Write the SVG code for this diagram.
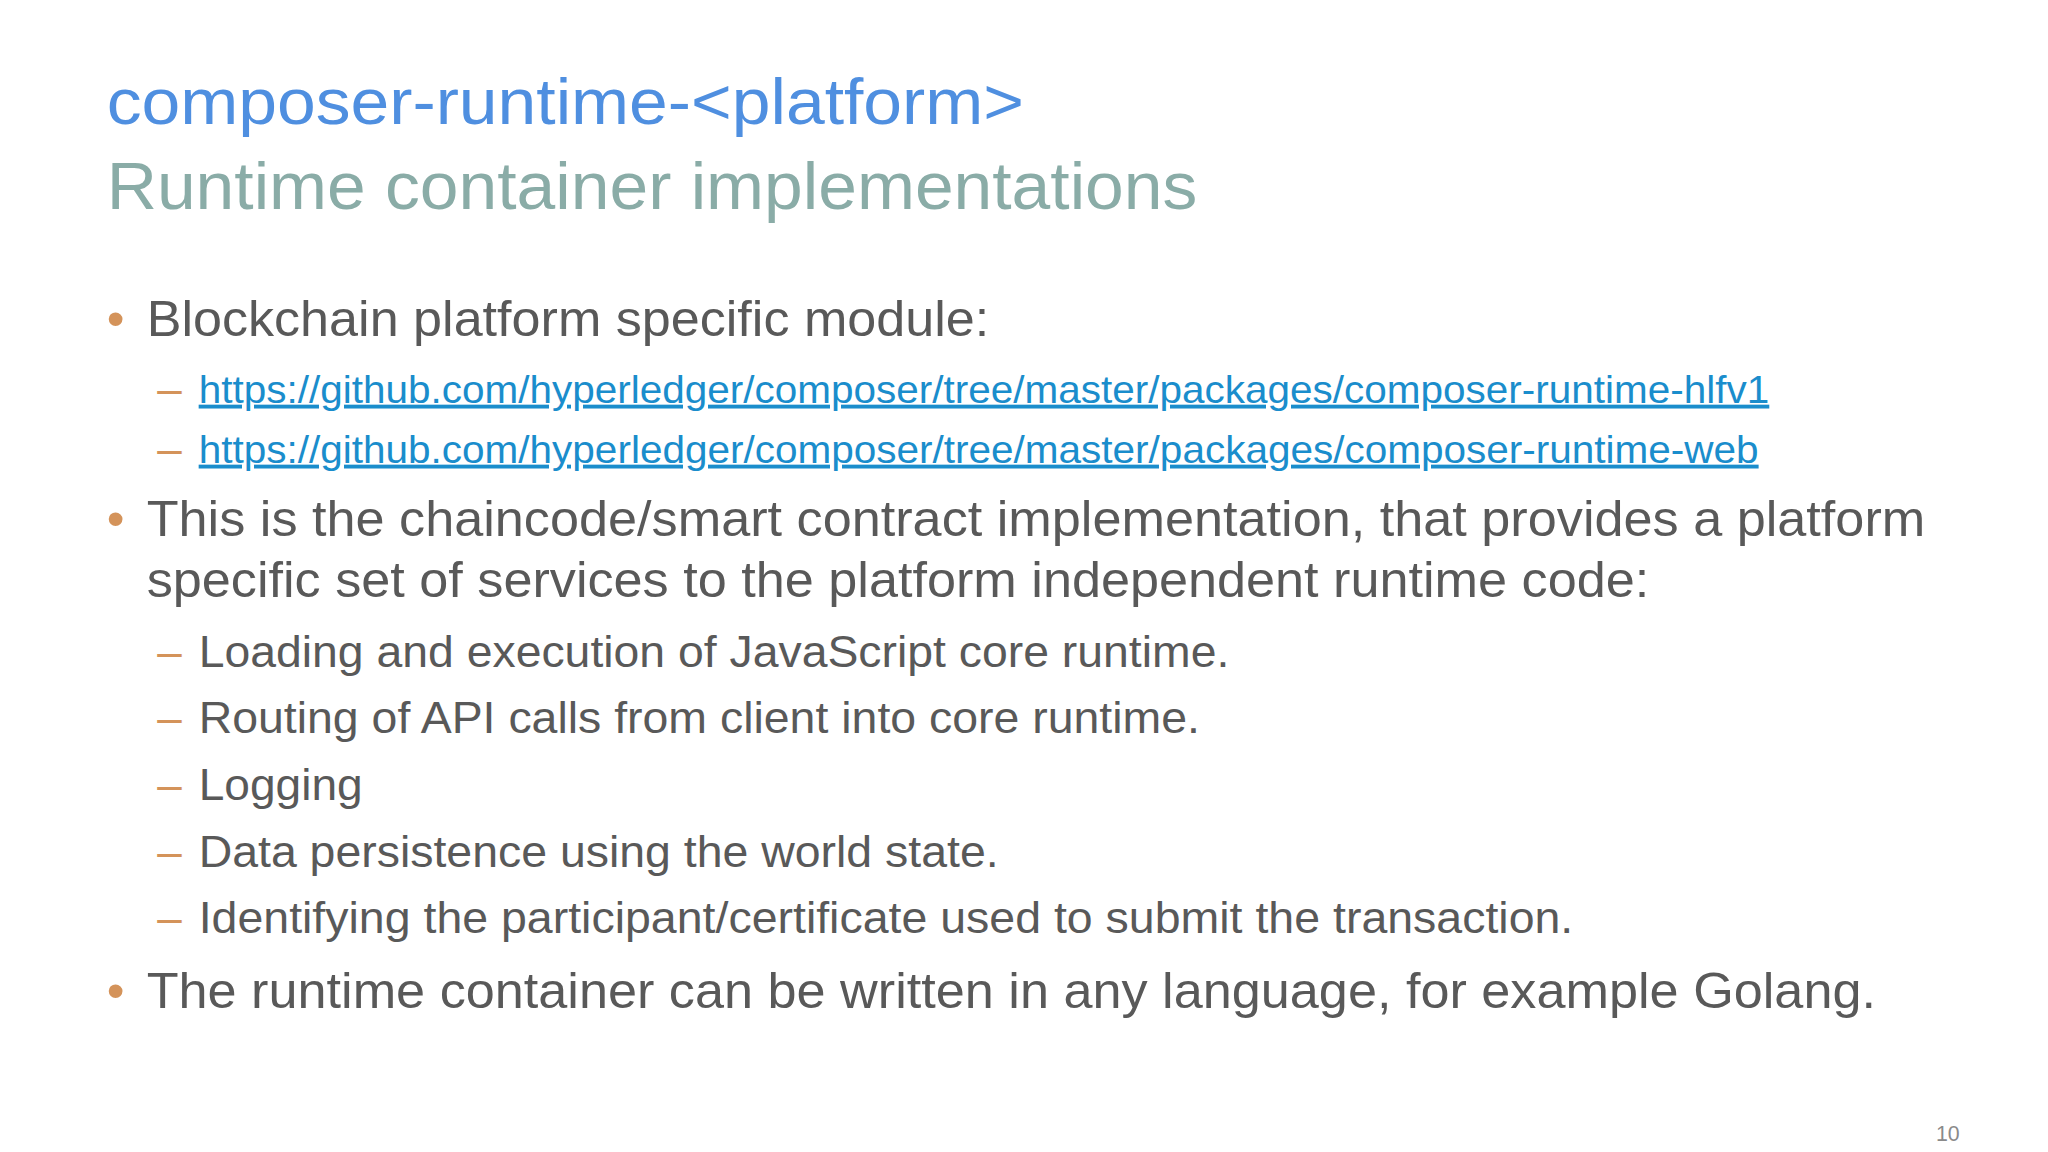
<svg xmlns="http://www.w3.org/2000/svg" width="2048" height="1152" viewBox="0 0 2048 1152">
<style>
text{font-family:"Liberation Sans",Arial,sans-serif;fill:#595959}
.t1{fill:#4f8fe0;font-size:49px}
.t2{fill:#8aaca7;font-size:50px}
.b{font-size:38px}
.s{font-size:33px}
.l{font-size:29px;fill:#1a8dcc;text-decoration:underline}
.o{fill:#d4935a}
</style>
<rect width="2048" height="1152" fill="#ffffff"/>
<g transform="scale(1.3333)">
<g id="title">
<text class="t1" x="80" y="93" textLength="688" lengthAdjust="spacingAndGlyphs">composer-runtime-&lt;platform&gt;</text>
<text class="t2" x="80" y="157" textLength="818" lengthAdjust="spacingAndGlyphs">Runtime container implementations</text>
</g>
<g id="body">
<text class="b o" x="80" y="252">•</text>
<text class="b" x="110" y="252" textLength="632" lengthAdjust="spacingAndGlyphs">Blockchain platform specific module:</text>
<text class="s o" x="118" y="303">–</text>
<text class="l" x="149" y="302" textLength="1178" lengthAdjust="spacingAndGlyphs">https://github.com/hyperledger/composer/tree/master/packages/composer-runtime-hlfv1</text>
<text class="s o" x="118" y="348">–</text>
<text class="l" x="149" y="347" textLength="1170" lengthAdjust="spacingAndGlyphs">https://github.com/hyperledger/composer/tree/master/packages/composer-runtime-web</text>
<text class="b o" x="80" y="402">•</text>
<text class="b" x="110" y="402" textLength="1334" lengthAdjust="spacingAndGlyphs">This is the chaincode/smart contract implementation, that provides a platform</text>
<text class="b" x="110" y="448" textLength="1127" lengthAdjust="spacingAndGlyphs">specific set of services to the platform independent runtime code:</text>
<text class="s o" x="118" y="500">–</text>
<text class="s" x="149" y="500" textLength="773" lengthAdjust="spacingAndGlyphs">Loading and execution of JavaScript core runtime.</text>
<text class="s o" x="118" y="550">–</text>
<text class="s" x="149" y="550" textLength="751" lengthAdjust="spacingAndGlyphs">Routing of API calls from client into core runtime.</text>
<text class="s o" x="118" y="600">–</text>
<text class="s" x="149" y="600" textLength="123" lengthAdjust="spacingAndGlyphs">Logging</text>
<text class="s o" x="118" y="650">–</text>
<text class="s" x="149" y="650" textLength="600" lengthAdjust="spacingAndGlyphs">Data persistence using the world state.</text>
<text class="s o" x="118" y="700">–</text>
<text class="s" x="149" y="700" textLength="1031" lengthAdjust="spacingAndGlyphs">Identifying the participant/certificate used to submit the transaction.</text>
<text class="b o" x="80" y="756">•</text>
<text class="b" x="110" y="756" textLength="1297" lengthAdjust="spacingAndGlyphs">The runtime container can be written in any language, for example Golang.</text>
</g>
<text id="page" x="1452" y="856" style="font-size:16px;fill:#8a8a8a">10</text>
</g>
</svg>
